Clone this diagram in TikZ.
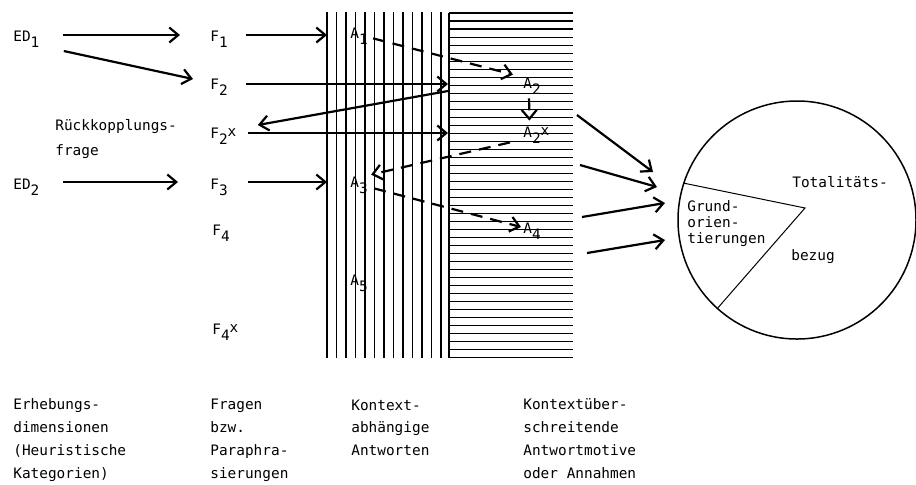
\documentclass[tikz,border=0pt]{standalone}
\usepackage{fontspec}
\usepackage{tikz}
\usetikzlibrary{arrows.meta}
\newfontfamily\tw{DejaVu Sans Mono}
\newcommand{\tief}[1]{\raisebox{-3pt}{#1}}
\newcommand{\hoch}[1]{\raisebox{0.8pt}{#1}}

\begin{document}
\begin{tikzpicture}[x=0.5pt,y=-0.5pt,
    tag/.style={font=\tw\fontsize{7.2}{11.35}\selectfont, inner sep=0pt, anchor=base west, text height=5pt, text depth=0pt},
    lbl/.style={font=\tw\fontsize{7.2}{11.35}\selectfont, inner sep=0pt, anchor=base west, align=left},
    arr/.style={line width=1.1pt, -{Straight Barb[length=4.5pt,width=7.5pt]}},
    darr/.style={arr, dash pattern=on 6pt off 4pt},
    hatch/.style={line width=0.55pt}]
      \useasboundingbox (0,0) rectangle (916,484);
      \foreach \i in {0,...,12}{
          \draw[hatch] (327+9.5*\i,12) -- (327+9.5*\i,358);
      }
      \draw[hatch] (449,13) -- (449,358);
      \foreach \i in {0,...,43}{
          \draw[hatch] (449,13+8.02*\i) -- (573,13+8.02*\i);
      }
      \node[tag] (ed1) at (13,41) {ED\tief{1}};
      \node[tag] (ed2) at (13,189) {ED\tief{2}};
      \node[lbl, font=\tw\fontsize{7.2}{12.5}\selectfont] (rueck) at (55,155) {Rückkopplungs-\\frage};
      \node[tag] (f1) at (210,41) {F\tief{1}};
      \node[tag] (f2) at (210,89) {F\tief{2}};
      \node[tag] (f2x) at (210,138) {F\tief{2}\hoch{x}};
      \node[tag] (f3) at (210,189) {F\tief{3}};
      \node[tag] (f4) at (212,235) {F\tief{4}};
      \node[tag] (f4x) at (212,334) {F\tief{4}\hoch{x}};
      \node[tag] (a1) at (350,38) {A\tief{1}};
      \node[tag] (a2) at (523,88) {A\tief{2}};
      \node[tag] (a2x) at (523,137) {A\tief{2}\hoch{x}};
      \node[tag] (a3) at (350,187) {A\tief{3}};
      \node[tag] (a4) at (523,233) {A\tief{4}};
      \node[tag] (a5) at (350,285) {A\tief{5}};
      \node[draw, circle, minimum size=119pt, inner sep=0pt, line width=0.75pt] (tot) at (797,220) {};
      \draw[line width=0.5pt] (tot.162) -- ([xshift=4pt,yshift=6pt]tot.center) -- (tot.228);
      \node[tag] (tot1) at (792,187) {Totalitäts-};
      \node[tag] (tot2) at (791,260) {bezug};
      \node[lbl, font=\tw\fontsize{7.2}{8}\selectfont] (grund) at (687,243) {Grund-\\orien-\\tierungen};
      \node[lbl] (erh) at (13,478) {Erhebungs-\\dimensionen\\(Heuristische\\Kategorien)};
      \node[lbl] (fra) at (210,478) {Fragen\\bzw.\\Paraphra-\\sierungen};
      \node[lbl] (kab) at (351,455.4) {Kontext-\\abhängige\\Antworten};
      \node[lbl] (kue) at (523,478) {Kontextüber-\\schreitende\\Antwortmotive\\oder Annahmen};
      \coordinate (h1) at (327,35);
      \coordinate (h5) at (327,182);
      \coordinate (b2) at (448,84);
      \coordinate (b3) at (448,91);
      \coordinate (b4) at (448,133);
      \coordinate (r1) at (577,115);
      \coordinate (r2) at (580,165);
      \coordinate (r3) at (582,217);
      \coordinate (r4) at (587,253);
      \coordinate (e1) at (653,172);
      \coordinate (e2) at (657,187);
      \coordinate (e3) at (665,203);
      \coordinate (e4) at (665,240);
      \draw[arr] ([xshift=11.5pt,yshift=0.5pt]ed1.east) -- ([xshift=-15pt,yshift=0.5pt]f1.west);
      \draw[arr] ([xshift=12pt,yshift=-7.5pt]ed1.east) -- ([xshift=-8.5pt,yshift=2.5pt]f2.west);
      \draw[arr] ([xshift=11.5pt,yshift=1pt]ed2.east) -- ([xshift=-16pt,yshift=1pt]f3.west);
      \draw[arr] ([xshift=9pt,yshift=0.5pt]f1.east) -- (h1);
      \draw[arr] ([xshift=9pt]f2.east) -- (b2);
      \draw[arr] (b3) -- ([xshift=10.5pt,yshift=4pt]f2x.east);
      \draw[arr] ([xshift=5.5pt]f2x.east) -- (b4);
      \draw[arr] ([xshift=10pt,yshift=1pt]f3.east) -- (h5);
      \draw[darr] ([xshift=2.5pt]a1.south east) -- ([xshift=-5pt,yshift=1.5pt]a2.north west);
      \draw[darr] ([xshift=-1.5pt,yshift=-5pt]a2.south) -- ([xshift=-3.5pt,yshift=3pt]a2x.north);
      \draw[darr] ([xshift=-6.5pt,yshift=-2.5pt]a2x.south west) -- ([xshift=1.5pt,yshift=1pt]a3.north east);
      \draw[darr] ([xshift=3pt,yshift=-0.5pt]a3.south east) -- ([xshift=-1pt,yshift=0.5pt]a4.west);
      \foreach \i in {1,...,4}{
          \draw[arr] (r\i) -- (e\i);
      }
  \end{tikzpicture}
\end{document}
